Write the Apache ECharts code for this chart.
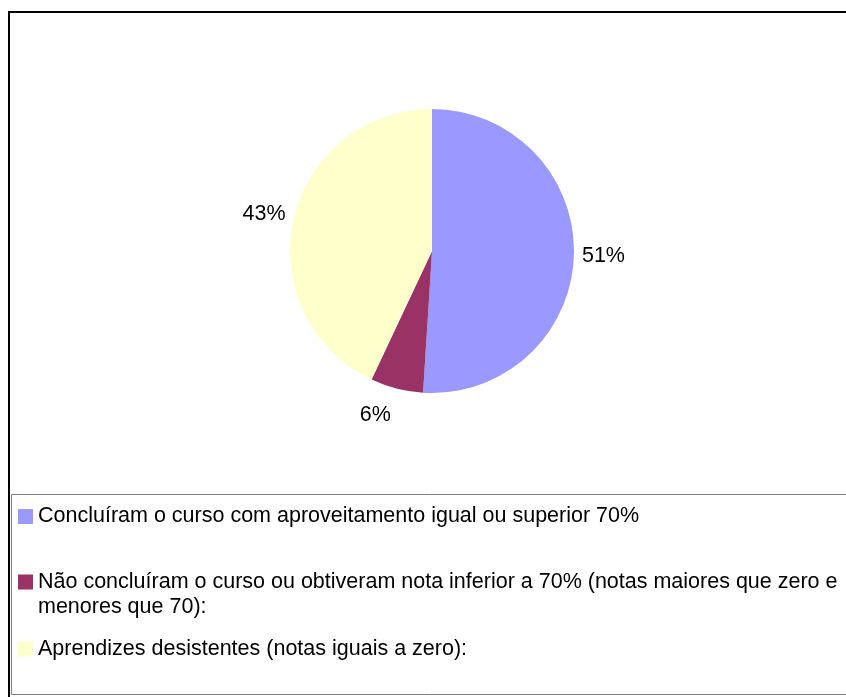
<!DOCTYPE html>
<html>
<head>
<meta charset="utf-8">
<script src="https://cdn.jsdelivr.net/npm/echarts@6/dist/echarts.min.js"></script>
<style>
  html, body { margin: 0; padding: 0; background: #fff; }
  #chart { width: 846px; height: 697px; }
</style>
</head>
<body>
<div id="chart"></div>
<script>
// categories / values
const names = [
  'Concluíram o curso com aproveitamento igual ou superior 70%',
  'Não concluíram o curso ou obtiveram nota inferior a 70% (notas maiores que zero e menores que 70):',
  'Aprendizes desistentes (notas iguais a zero):'
]
const values = [51, 6, 43]
const colors = ['#9999ff', '#993366', '#ffffcc']

const font = "'Liberation Sans', Arial, sans-serif"
const fontSize = 21.5
const cx = 432
const cy = 251

// simple word wrap, words stay whole and no space starts a line
function wrap (text, maxWidth) {
  const ctx = document.createElement('canvas').getContext('2d')
  ctx.font = fontSize + 'px ' + font
  let lines = []
  let line = ''
  text.split(' ').forEach(w => {
    const test = line ? line + ' ' + w : w
    if (line && ctx.measureText(test).width > maxWidth) {
      lines.push(line)
      line = w
    } else {
      line = test
    }
  })
  lines.push(line)
  return lines.join('\n')
}

const chart = echarts.init(document.getElementById('chart'))

const legendBase = {
  orient: 'vertical',
  left: 18,
  padding: 0,
  itemWidth: 15,
  itemHeight: 15,
  icon: 'rect',
  selectedMode: false,
  textStyle: { fontFamily: font, fontSize: fontSize, color: '#000', lineHeight: 25 }
}

chart.setOption({
  animation: false,
  color: colors,
  graphic: [
    { type: 'rect', shape: { x: 9, y: 12, width: 900, height: 720 }, style: { fill: 'none', stroke: '#000', lineWidth: 2 }, silent: true },
    { type: 'rect', shape: { x: 11.5, y: 494.5, width: 900, height: 200 }, style: { fill: 'none', stroke: '#7f7f7f', lineWidth: 1 }, silent: true }
  ],
  legend: [
    Object.assign({}, legendBase, { top: 504, data: [names[0]] }),
    Object.assign({}, legendBase, {
      top: 544.5,
      data: [names[1]],
      // empty first line so the marker lines up with the first text line
      formatter: name => '\n' + wrap(name, 820)
    }),
    Object.assign({}, legendBase, { top: 636.5, data: [names[2]] })
  ],
  series: [{
    type: 'pie',
    center: [cx, cy],
    radius: 142,
    startAngle: 90,
    clockwise: true,
    silent: true,
    itemStyle: { borderWidth: 0 },
    label: {
      show: true,
      position: 'outside',
      formatter: '{d}%',
      fontFamily: font,
      fontSize: fontSize,
      color: '#000'
    },
    labelLine: { show: false, length: 3, length2: 0 },
    labelLayout: function (params) {
      const r = params.labelRect
      const my = r.y + r.height / 2
      return { dy: (my - cy) / 150 * 25 }
    },
    emphasis: { disabled: true },
    data: names.map((n, i) => ({ name: n, value: values[i] }))
  }]
})
</script>
</body>
</html>
